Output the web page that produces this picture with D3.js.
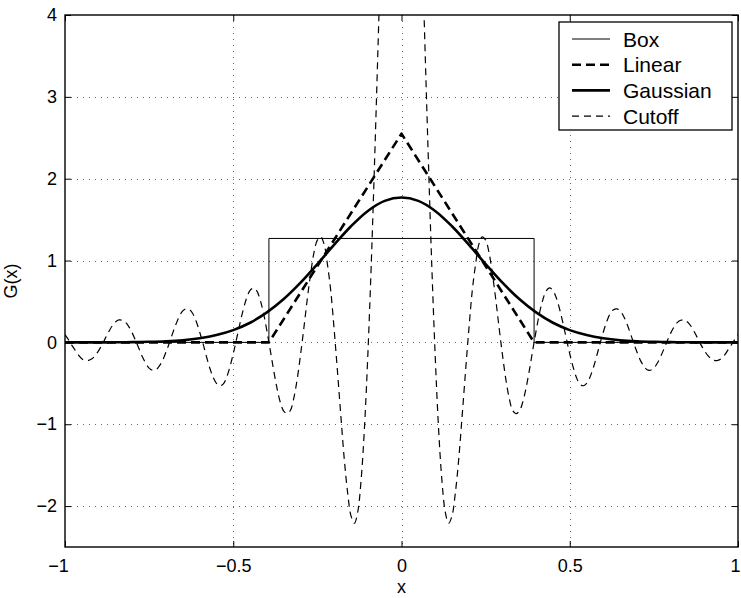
<!DOCTYPE html>
<html>
<head>
<meta charset="utf-8">
<script src="https://cdn.jsdelivr.net/npm/d3@7"></script>
<style>
  html, body { margin: 0; padding: 0; background: #fff; }
  text { font-family: "Liberation Sans", Arial, Helvetica, sans-serif; fill: #000; }
</style>
</head>
<body>
<svg id="chart" width="741" height="598"></svg>
<script>
// ---------- data ----------
const xTicks = [-1, -0.5, 0, 0.5, 1];
const xTickLabels = ["\u22121", "\u22120.5", "0", "0.5", "1"];
const yTicks = [-2, -1, 0, 1, 2, 3, 4];
const yTickLabels = ["\u22122", "\u22121", "0", "1", "2", "3", "4"];
const seriesNames = ["Box", "Linear", "Gaussian", "Cutoff"];

// Box filter (x, G)
const boxX = [-1, -0.394, -0.394, 0.394, 0.394, 1];
const boxY = [0, 0, 1.27, 1.27, 0, 0];

// Linear (tent) filter
const linearX = [-1, -0.394, 0, 0.394, 1];
const linearY = [0, 0, 2.55, 0, 0];

// Gaussian filter, sampled at x = -1 ... 1 step 0.05
const gaussX = d3.range(41).map(i => -1 + i * 0.05);
const gaussY = [0.0001, 0.0002, 0.0006, 0.001, 0.003, 0.007, 0.014, 0.027, 0.051, 0.090,
  0.150, 0.240, 0.366, 0.529, 0.729, 0.957, 1.194, 1.419, 1.606, 1.729,
  1.77,
  1.729, 1.606, 1.419, 1.194, 0.957, 0.729, 0.529, 0.366, 0.240, 0.150,
  0.090, 0.051, 0.027, 0.014, 0.007, 0.003, 0.001, 0.0006, 0.0002, 0.0001];

// Cutoff (sharp spectral) filter, sampled at x = -1 ... 1 step 0.01
const cutoffX = d3.range(201).map(i => -1 + i * 0.01);
const cutoffY = [
  0.095, 0.035, -0.033, -0.095, -0.155, -0.20, -0.22, -0.22, -0.20, -0.16, -0.10,
  -0.03, 0.052, 0.13, 0.20, 0.25, 0.275, 0.27, 0.245, 0.19, 0.113,
  0.021, -0.078, -0.175, -0.255, -0.315, -0.34, -0.335, -0.29, -0.22, -0.12,
  -0.008, 0.113, 0.225, 0.32, 0.385, 0.41, 0.40, 0.35, 0.255, 0.13,
  -0.013, -0.167, -0.31, -0.425, -0.50, -0.53, -0.51, -0.43, -0.30, -0.139,
  0.045, 0.233, 0.405, 0.545, 0.635, 0.665, 0.63, 0.52, 0.355, 0.14,
  -0.095, -0.34, -0.56, -0.735, -0.84, -0.87, -0.83, -0.68, -0.45, -0.15,
  0.18, 0.53, 0.84, 1.10, 1.25, 1.29, 1.20, 0.95, 0.62, 0.15,
  -0.37, -0.91, -1.43, -1.84, -2.12, -2.21, -2.07, -1.68, -1.04, -0.15,
  0.94, 2.21, 3.58, 5.00, 6.36, 7.61, 8.67, 9.48, 9.98,
  10.15,
  9.98, 9.48, 8.67, 7.61, 6.36, 5.00, 3.58, 2.21, 0.94,
  -0.15, -1.04, -1.68, -2.07, -2.21, -2.12, -1.84, -1.43, -0.91, -0.37,
  0.15, 0.62, 0.95, 1.20, 1.29, 1.25, 1.10, 0.84, 0.53, 0.18,
  -0.15, -0.45, -0.68, -0.83, -0.87, -0.84, -0.735, -0.56, -0.34, -0.095,
  0.14, 0.355, 0.52, 0.63, 0.665, 0.635, 0.545, 0.405, 0.233, 0.045,
  -0.139, -0.30, -0.43, -0.51, -0.53, -0.50, -0.425, -0.31, -0.167, -0.013,
  0.13, 0.255, 0.35, 0.40, 0.41, 0.385, 0.32, 0.225, 0.113, -0.008,
  -0.12, -0.22, -0.29, -0.335, -0.34, -0.315, -0.255, -0.175, -0.078, 0.021,
  0.113, 0.19, 0.245, 0.27, 0.275, 0.25, 0.20, 0.13, 0.052, -0.03,
  -0.10, -0.16, -0.20, -0.22, -0.22, -0.20, -0.155, -0.095, -0.033, 0.035, 0.095
];

// ---------- layout ----------
const svg = d3.select("#chart");
const L = 65, R = 738, T = 15, B = 547;
const x = d3.scaleLinear().domain([-1, 1]).range([L, R]);
const y = d3.scaleLinear().domain([-2.5, 4]).range([B, T]);

svg.append("defs").append("clipPath").attr("id", "plotclip")
  .append("rect").attr("x", L).attr("y", T).attr("width", R - L).attr("height", B - T);

// grid
const grid = svg.append("g").attr("stroke", "#666").attr("stroke-width", 1)
  .attr("stroke-dasharray", "1,5").attr("shape-rendering", "crispEdges");
xTicks.slice(1, -1).forEach(v => grid.append("line")
  .attr("x1", Math.round(x(v)) + 0.5).attr("x2", Math.round(x(v)) + 0.5)
  .attr("y1", T).attr("y2", B));
yTicks.filter(v => v !== 4).forEach(v => grid.append("line")
  .attr("x1", L).attr("x2", R)
  .attr("y1", Math.round(y(v)) + 0.5).attr("y2", Math.round(y(v)) + 0.5));

// axes (ticks inward on all sides)
const tk = 6;
svg.append("g").attr("transform", `translate(0,${B})`)
  .call(d3.axisBottom(x).tickValues(xTicks).tickSize(-tk).tickFormat((d, i) => xTickLabels[i]).tickPadding(12))
  .call(g => {
    g.select(".domain").remove();
    g.selectAll("text").attr("font-size", 18)
      .attr("dx", (d, i) => i === 0 ? -7 : (i === xTicks.length - 1 ? -3 : 0));
  });
svg.append("g").attr("transform", `translate(0,${T})`)
  .call(d3.axisTop(x).tickValues(xTicks).tickSize(-tk).tickFormat(""))
  .call(g => g.select(".domain").remove());
svg.append("g").attr("transform", `translate(${L},0)`)
  .call(d3.axisLeft(y).tickValues(yTicks).tickSize(-tk).tickFormat((d, i) => yTickLabels[i]).tickPadding(8))
  .call(g => { g.select(".domain").remove(); g.selectAll("text").attr("font-size", 18); });
svg.append("g").attr("transform", `translate(${R},0)`)
  .call(d3.axisRight(y).tickValues(yTicks).tickSize(-tk).tickFormat(""))
  .call(g => g.select(".domain").remove());
svg.selectAll(".tick line").attr("stroke", "#000").attr("stroke-width", 1);

// curves
const plot = svg.append("g").attr("clip-path", "url(#plotclip)");
function draw(xs, ys, curve, width, dash) {
  const pts = xs.map((v, i) => [v, ys[i]]);
  plot.append("path")
    .attr("d", d3.line().x(d => x(d[0])).y(d => y(d[1])).curve(curve)(pts))
    .attr("fill", "none").attr("stroke", "#000")
    .attr("stroke-width", width)
    .attr("stroke-dasharray", dash || null)
    .attr("stroke-linejoin", "round");
}
draw(boxX, boxY, d3.curveLinear, 1, null);
draw(linearX, linearY, d3.curveLinear, 2.6, "9,5");
draw(gaussX, gaussY, d3.curveCatmullRom, 2.6, null);
draw(cutoffX, cutoffY, d3.curveCatmullRom, 1.2, "7,5");

// axes box
svg.append("rect").attr("x", L).attr("y", T).attr("width", R - L).attr("height", B - T)
  .attr("fill", "none").attr("stroke", "#000").attr("stroke-width", 1.4);

// labels
svg.append("text").attr("x", (L + R) / 2).attr("y", 593).attr("text-anchor", "middle")
  .attr("font-size", 18).text("x");
svg.append("text").attr("transform", `translate(17,${(T + B) / 2}) rotate(-90)`)
  .attr("text-anchor", "middle").attr("font-size", 18).text("G(x)");

// legend
const lg = svg.append("g");
lg.append("rect").attr("x", 559).attr("y", 22).attr("width", 173).attr("height", 108)
  .attr("fill", "#fff").attr("stroke", "#000").attr("stroke-width", 1.3);
const legStyles = [
  { w: 1, dash: null }, { w: 2.6, dash: "9,5" }, { w: 2.6, dash: null }, { w: 1.2, dash: "7,5" }
];
seriesNames.forEach((name, i) => {
  const yy = 39 + i * 25.7;
  lg.append("line").attr("x1", 572).attr("x2", 610).attr("y1", yy).attr("y2", yy)
    .attr("stroke", "#000").attr("stroke-width", legStyles[i].w)
    .attr("stroke-dasharray", legStyles[i].dash);
  lg.append("text").attr("x", 623).attr("y", yy + 7.5).attr("font-size", 21).text(name);
});
</script>
</body>
</html>
